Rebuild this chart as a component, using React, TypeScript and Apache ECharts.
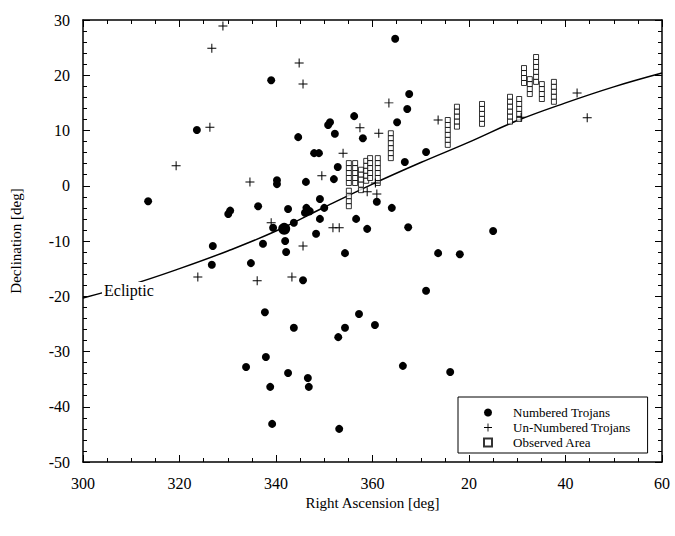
import React, { useEffect, useRef } from "react";
import * as echarts from "echarts";

// Right ascension (deg, continued past 360) and declination (deg)
const numberedTrojans: number[][] = [
  [313.5, -2.8], [323.6, 10.1], [339.0, 19.1], [330.1, -5.1], [330.5, -4.5],
  [336.3, -3.7], [340.2, 1.0], [340.2, 0.3], [339.4, -7.6], [364.7, 26.6],
  [367.6, 16.6], [367.2, 13.9], [365.1, 11.5], [356.2, 12.6], [351.2, 11.5],
  [350.8, 11.0], [352.2, 9.4], [358.0, 8.6], [344.6, 8.8], [347.9, 5.9],
  [348.9, 5.9], [371.1, 6.1], [366.7, 4.3], [352.8, 3.4], [352.0, 1.2],
  [346.2, 0.7], [360.9, -2.9], [364.0, -4.0], [349.1, -2.4], [342.5, -4.2],
  [346.3, -4.0], [346.0, -4.9], [347.0, -4.6], [350.0, -4.0], [349.1, -6.0],
  [343.7, -6.7], [356.6, -6.0], [358.9, -7.8], [367.4, -7.5], [348.3, -8.7],
  [341.9, -10.0], [342.1, -12.0], [326.9, -10.9], [326.7, -14.3],
  [337.3, -10.5], [334.8, -14.0], [337.7, -22.9], [354.3, -12.2], [373.6, -12.2],
  [378.1, -12.4], [345.6, -17.1], [371.1, -19.0], [357.2, -23.2], [343.7, -25.7],
  [354.3, -25.7], [352.9, -27.4], [360.5, -25.2], [366.3, -32.6], [376.1, -33.7],
  [342.5, -33.9], [346.6, -34.8], [346.8, -36.4], [338.8, -36.4], [339.2, -43.1],
  [353.1, -44.0], [337.9, -31.0], [333.8, -32.8], [385.0, -8.2],
];
const largeTrojan: number[] = [341.7, -7.8];

const unNumberedTrojans: number[][] = [
  [329.0, 28.9], [326.7, 24.9], [326.3, 10.6], [319.3, 3.6], [334.6, 0.7],
  [339.0, -6.7], [344.8, 22.2], [345.6, 18.4], [363.4, 15.0], [373.6, 11.9],
  [357.4, 10.5], [361.3, 9.5], [353.9, 5.9], [349.5, 1.8], [358.9, -1.1],
  [360.9, -1.5], [351.8, -7.6], [353.1, -7.6], [323.8, -16.5], [336.1, -17.2],
  [343.3, -16.5], [345.6, -10.9], [402.4, 16.8], [404.5, 12.3], [390.8, 12.4],
  [360.6, 0.5],
];

const observedColumnRA: number[] = [
  355.1, 356.4, 357.6, 358.7, 359.5, 361.1, 363.8, 375.6, 377.5, 382.7,
  388.5, 390.4, 391.4, 392.6, 393.9, 395.1, 397.6,
];
const observedColumnDec: number[][] = [
  [4.1, 3.2, 2.3, 1.4, 0.5, -0.9, -1.9, -2.8, -3.7],
  [4.1, 3.2, 2.3, 1.4, 0.5],
  [2.9, 2.0, 1.1, 0.2, -0.8],
  [4.5, 3.6, 2.7, 1.8, 0.9],
  [5.0, 4.1, 3.2, 2.3, 1.4],
  [5.0, 4.1, 3.2, 2.3, 1.4, 0.5],
  [9.5, 8.6, 7.7, 6.8, 5.9, 5.0],
  [11.9, 11.0, 10.1, 9.2, 8.3, 7.4],
  [14.3, 13.4, 12.5, 11.6, 10.7],
  [14.8, 13.9, 13.0, 12.1, 11.2],
  [16.1, 15.2, 14.3, 13.4, 12.5, 11.6],
  [15.7, 14.8, 13.9, 13.0, 12.1],
  [21.3, 20.4, 19.5, 18.6],
  [19.3, 18.4, 17.5, 16.6],
  [23.3, 22.4, 21.5, 20.6, 19.7, 18.8],
  [18.4, 17.5, 16.6, 15.7],
  [18.8, 17.9, 17.0, 16.1, 15.2],
];

const eclipticRA: number[] = [300, 310, 320, 330, 340, 350, 360, 370, 380, 390, 400, 410, 420];
const eclipticDec: number[] = [-20.3, -17.9, -15.0, -11.8, -8.2, -3.9, 0.3, 4.2, 7.9, 11.8, 15.0, 17.9, 20.4];

const FONT = "'Liberation Serif', 'Times New Roman', serif";
const CROSS = "path://M4,0H5V4H9V5H5V9H4V5H0V4H4Z";

export default function App() {
  const ref = useRef<HTMLDivElement>(null);
  useEffect(() => {
    if (!ref.current) return;
    const chart = echarts.init(ref.current, undefined, { renderer: "svg" });
    const observed: number[][] = [];
    observedColumnRA.forEach((ra, i) => {
      observedColumnDec[i].forEach((d) => observed.push([ra, d]));
    });
    const ecliptic = eclipticRA.map((ra, i) => [ra, eclipticDec[i]]);
    const numberedData: any[] = numberedTrojans.map((p) => p);
    numberedData.push({ value: largeTrojan, symbolSize: 12 });

    const axisCommon = {
      axisLine: { show: true, onZero: false, lineStyle: { color: "#000", width: 1.5 } },
      axisTick: { show: true, inside: true, length: 7, lineStyle: { color: "#000", width: 1 } },
      minorTick: { show: true, length: 4, lineStyle: { color: "#000", width: 1 } },
      splitLine: { show: false },
      minorSplitLine: { show: false },
    };

    chart.setOption({
      animation: false,
      backgroundColor: "#fff",
      textStyle: { fontFamily: FONT, color: "#000" },
      grid: { left: 83, right: 13, top: 20, bottom: 74, containLabel: false },
      xAxis: [
        {
          type: "value", min: 300, max: 420, interval: 20, position: "bottom",
          ...axisCommon,
          minorTick: { ...axisCommon.minorTick, splitNumber: 4 },
          axisLabel: {
            fontFamily: FONT, fontSize: 16, color: "#000", margin: 13,
            formatter: (v: number) => String(v > 360 ? v - 360 : v),
          },
          name: "Right Ascension [deg]", nameLocation: "middle", nameGap: 30,
          nameTextStyle: { fontFamily: FONT, fontSize: 15, color: "#000" },
        },
        {
          type: "value", min: 300, max: 420, interval: 20, position: "top",
          ...axisCommon,
          minorTick: { ...axisCommon.minorTick, splitNumber: 4 },
          axisLabel: { show: false },
        },
      ],
      yAxis: [
        {
          type: "value", min: -50, max: 30, interval: 10, position: "left",
          ...axisCommon,
          minorTick: { ...axisCommon.minorTick, splitNumber: 5 },
          axisLabel: { fontFamily: FONT, fontSize: 16, color: "#000", margin: 13 },
          name: "Declination [deg]", nameLocation: "middle", nameGap: 60,
          nameTextStyle: { fontFamily: FONT, fontSize: 15, color: "#000" },
        },
        {
          type: "value", min: -50, max: 30, interval: 10, position: "right",
          ...axisCommon,
          minorTick: { ...axisCommon.minorTick, splitNumber: 5 },
          axisLabel: { show: false },
        },
      ],
      legend: {
        data: ["Numbered Trojans", "Un-Numbered Trojans", "Observed Area"],
        orient: "vertical",
        left: 458, top: 397,
        padding: [9, 17, 4, 25],
        itemGap: 2,
        itemWidth: 8, itemHeight: 8,
        borderColor: "#000", borderWidth: 1,
        backgroundColor: "#fff",
        textStyle: { fontFamily: FONT, fontSize: 13, color: "#000", padding: [0, 0, 0, 16] },
      },
      series: [
        {
          name: "Ecliptic", type: "line", data: ecliptic, smooth: 0.4,
          showSymbol: false, symbol: "none", xAxisIndex: 0, yAxisIndex: 0,
          lineStyle: { color: "#000", width: 1.5 }, z: 1,
        },
        {
          name: "Observed Area", type: "scatter", data: observed, symbol: "rect",
          symbolSize: 5, xAxisIndex: 0, yAxisIndex: 0,
          itemStyle: { color: "#fff", borderColor: "#000", borderWidth: 1 }, z: 2,
        },
        {
          name: "Numbered Trojans", type: "scatter", data: numberedData, symbol: "circle",
          symbolSize: 8, xAxisIndex: 0, yAxisIndex: 0,
          itemStyle: { color: "#000", opacity: 1 }, z: 3,
        },
        {
          name: "Un-Numbered Trojans", type: "scatter", data: unNumberedTrojans, symbol: CROSS,
          symbolSize: 9, xAxisIndex: 0, yAxisIndex: 0,
          itemStyle: { color: "#000", opacity: 1 }, z: 4,
        },
      ],
      graphic: [
        {
          type: "text", left: 102, top: 282, z: 10,
          style: {
            text: "Ecliptic", fontFamily: FONT, fontSize: 16, fill: "#000",
            backgroundColor: "#fff", padding: [0, 2, 0, 2],
          },
        },
      ],
    });
    return () => chart.dispose();
  }, []);
  return (
    <div
      ref={ref}
      style={{ position: "fixed", left: 0, top: 0, width: 675, height: 536, background: "#fff" }}
    />
  );
}
